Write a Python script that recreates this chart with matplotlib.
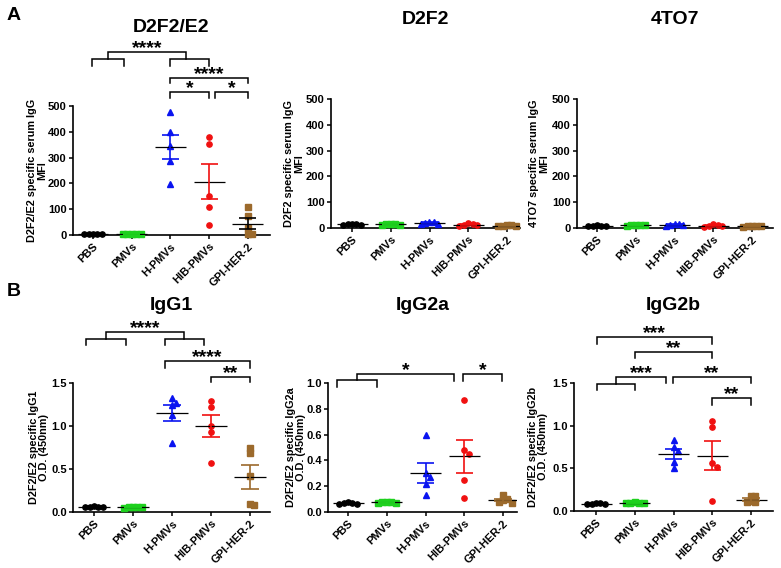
import numpy as np
import matplotlib
matplotlib.use('Agg')
import matplotlib.pyplot as plt

plt.rcParams['font.family'] = ['Liberation Sans', 'DejaVu Sans']
plt.rcParams['font.weight'] = 'bold'

groups = ['PBS', 'PMVs', 'H-PMVs', 'HIB-PMVs', 'GPI-HER-2']
colors = ['#000000', '#1ed11e', '#0a14f0', '#f01010', '#9c6a2c']
markers = ['o', 's', '^', 'o', 's']

# values, 5 mice per group
d2f2e2 = [[2, 2, 2, 2, 2], [3, 3, 3, 3, 3], [475, 400, 345, 285, 197],
          [381, 353, 152, 108, 37], [110, 72, 28, 5, 5]]
d2f2 = [[16, 15, 14, 13, 12], [15, 14, 14, 13, 12], [25, 23, 20, 17, 14],
        [20, 15, 12, 10, 8], [12, 10, 9, 8, 8]]
to7 = [[10, 9, 8, 8, 7], [12, 11, 10, 10, 9], [16, 15, 12, 10, 8],
       [14, 10, 8, 6, 5], [9, 8, 7, 6, 5]]
igg1 = [[0.07, 0.06, 0.06, 0.06, 0.06], [0.06, 0.06, 0.055, 0.055, 0.05],
        [1.32, 1.27, 1.24, 1.13, 0.80], [1.29, 1.22, 1.00, 0.93, 0.57],
        [0.75, 0.69, 0.42, 0.09, 0.08]]
igg2a = [[0.08, 0.07, 0.07, 0.065, 0.065], [0.08, 0.075, 0.075, 0.07, 0.07],
         [0.60, 0.30, 0.27, 0.22, 0.13], [0.87, 0.48, 0.45, 0.25, 0.11],
         [0.13, 0.10, 0.09, 0.08, 0.07]]
igg2b = [[0.09, 0.09, 0.085, 0.085, 0.08], [0.10, 0.095, 0.09, 0.09, 0.09],
         [0.83, 0.75, 0.70, 0.57, 0.50], [1.05, 0.99, 0.56, 0.51, 0.12],
         [0.18, 0.17, 0.12, 0.10, 0.10]]

W, H = 781, 568
fig = plt.figure(figsize=(W / 100, H / 100), dpi=100)


def fx(px):
    return px / W


def fy(py):
    return 1 - py / H


MS = 3.8
DPX = MS * 100 / 72 * 0.85


def swarm(ax, xc, vals):
    # spread overlapping points sideways, like prism does
    pts = ax.transData.transform(np.column_stack([np.full(len(vals), float(xc)), vals]))
    placed = []
    out = np.zeros(len(vals))
    for i in np.argsort(vals, kind='stable')[::-1]:
        px, py = pts[i]
        for k in [0, 1, -1, 2, -2, 3, -3, 4, -4]:
            cx = px + k * DPX
            if all(np.hypot(cx - qx, py - qy) >= DPX * 0.98 for qx, qy in placed):
                break
        placed.append((cx, py))
        out[i] = ax.transData.inverted().transform((cx, py))[0]
    return out


def bracket(ax, x1, x2, y, yl, yr, text=''):
    ax.plot([x1, x1, x2, x2], [yl, y, y, yr], color='black', lw=1.1,
            clip_on=False, solid_joinstyle='miter')
    if text:
        ax.annotate(text, xy=((x1 + x2) / 2, y), xytext=(0, -0.8),
                    textcoords='offset points', ha='center', va='baseline',
                    fontsize=14, fontweight='bold', annotation_clip=False)


def panel(box, x0, s, data, ylim, yticks, fmt, title, ylabel, lab_x, sem_cols=None):
    left, top, right, bottom = box
    ax = fig.add_axes([fx(left), fy(bottom), fx(right - left), (bottom - top) / H])
    ax.set_xlim((left - x0) / s, (right - x0) / s)
    ax.set_ylim(*ylim)
    sem_cols = sem_cols or colors
    for i, vals in enumerate(data):
        vals = np.array(vals, dtype=float)
        xs = swarm(ax, i, vals)
        ax.plot(xs, vals, linestyle='none', marker=markers[i], ms=MS,
                color=colors[i], mec=colors[i], clip_on=False, zorder=3)
        m = vals.mean()
        sem = vals.std(ddof=1) / np.sqrt(len(vals))
        ax.hlines(m, i - 0.4, i + 0.4, color='black', lw=0.9, zorder=4)
        ax.vlines(i, m - sem, m + sem, color=sem_cols[i], lw=1.2, zorder=4)
        ax.hlines([m - sem, m + sem], i - 0.22, i + 0.22, color=sem_cols[i], lw=1.2, zorder=4)
    ax.set_xticks(range(len(groups)))
    ax.set_xticklabels(groups, rotation=45, ha='right', rotation_mode='anchor',
                       fontsize=8, fontweight='bold')
    ax.set_yticks(yticks)
    ax.set_yticklabels([fmt.format(t) for t in yticks], fontsize=8, fontweight='bold')
    for sp in ['top', 'right']:
        ax.spines[sp].set_visible(False)
    for sp in ['left', 'bottom']:
        ax.spines[sp].set_linewidth(1.2)
    ax.tick_params(axis='both', width=1.1, length=3, pad=1.5)
    fig.text(fx((left + right) / 2), fy(top - 79 if top < 150 else top - 77), title,
             ha='center', va='center', fontsize=14, fontweight='bold')
    fig.text(fx(lab_x), fy((top + bottom) / 2), ylabel, rotation=90, ha='center',
             va='center', multialignment='center', fontsize=7.8, fontweight='bold',
             linespacing=1.05)
    return ax


ax1 = panel((73, 106, 270, 235), 93, 38.7, d2f2e2, (0, 500), [0, 100, 200, 300, 400, 500],
            '{:.0f}', 'D2F2/E2', 'D2F2/E2 specific serum IgG\nMFI', 37.5,
            sem_cols=colors[:4] + ['#000000'])
ax2 = panel((331, 99, 520, 228), 352, 38.75, d2f2, (0, 500), [0, 100, 200, 300, 400, 500],
            '{:.0f}', 'D2F2', 'D2F2 specific serum IgG\nMFI', 294)
ax3 = panel((577, 99, 773, 228), 597, 38.75, to7, (0, 500), [0, 100, 200, 300, 400, 500],
            '{:.0f}', '4TO7', '4TO7 specific serum IgG\nMFI', 539)
ax4 = panel((73, 383, 270, 512), 94, 39, igg1, (0, 1.5), [0, 0.5, 1.0, 1.5],
            '{:.1f}', 'IgG1', 'D2F2/E2 specific IgG1\nO.D. (450nm)', 39)
ax5 = panel((328, 383, 517, 512), 348, 38.75, igg2a, (0, 1.0), [0, 0.2, 0.4, 0.6, 0.8, 1.0],
            '{:.1f}', 'IgG2a', 'D2F2/E2 specific IgG2a\nO.D. (450nm)', 296)
ax6 = panel((574, 383, 773, 511), 596, 38.75, igg2b, (0, 1.5), [0, 0.5, 1.0, 1.5],
            '{:.1f}', 'IgG2b', 'D2F2/E2 specific IgG2b\nO.D. (450nm)', 538)

# significance brackets
bracket(ax1, -0.03, 0.8, 682, 655, 655)
bracket(ax1, 2.0, 3.0, 682, 655, 655)
bracket(ax1, 0.38, 2.4, 709, 682, 682, '****')
bracket(ax1, 2.0, 4.0, 608, 589, 589, '****')
bracket(ax1, 2.0, 3.0, 554, 531, 531, '*')
bracket(ax1, 3.15, 4.0, 554, 531, 531, '*')

bracket(ax4, -0.2, 0.83, 2.01, 1.94, 1.94)
bracket(ax4, 1.82, 2.81, 2.01, 1.94, 1.94)
bracket(ax4, 0.31, 2.3, 2.09, 2.01, 2.01, '****')
bracket(ax4, 1.82, 4.0, 1.76, 1.67, 1.67, '****')
bracket(ax4, 3.01, 4.0, 1.57, 1.51, 1.51, '**')

bracket(ax5, -0.28, 0.75, 1.023, 0.97, 0.97)
bracket(ax5, 0.23, 2.74, 1.07, 1.023, 1.016, '*')
bracket(ax5, 2.97, 3.97, 1.07, 1.016, 1.016, '*')

bracket(ax6, 0.03, 3.0, 2.04, 1.96, 1.96, '***')
bracket(ax6, 1.0, 3.0, 1.86, 1.79, 1.79, '**')
bracket(ax6, 0.03, 1.0, 1.49, 1.42, 1.42)
bracket(ax6, 0.52, 1.81, 1.57, 1.49, 1.50, '***')
bracket(ax6, 1.99, 4.0, 1.57, 1.50, 1.50, '**')
bracket(ax6, 3.0, 4.0, 1.32, 1.24, 1.24, '**')

fig.text(fx(7), fy(16), 'A', ha='left', va='center', fontsize=14, fontweight='bold')
fig.text(fx(7), fy(291), 'B', ha='left', va='center', fontsize=14, fontweight='bold')

fig.savefig('out.png', dpi=100)
